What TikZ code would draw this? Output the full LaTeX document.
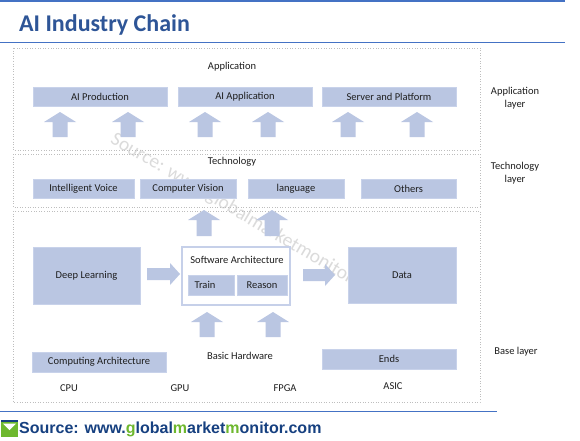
\documentclass[tikz,border=0pt]{standalone}
\usepackage{fontspec}
\setmainfont{Carlito}
\newfontfamily\arialb{Liberation Sans}
\begin{document}
\begin{tikzpicture}[x=1pt,y=-1pt,
  boxfill/.style={fill=boxc,draw=boxe,line width=0.8pt},
  bluebox/.style={boxfill,minimum height=19pt,inner sep=0pt,font=\fontsize{10.5}{12}\selectfont,text=txt},
  layerframe/.style={draw=framec,dotted,line width=0.6pt},
  lbl/.style={font=\fontsize{10.5}{12.5}\selectfont,text=txt,inner sep=0pt,align=center},
  blockarrow/.style={fill=boxc,draw=none}]
\definecolor{boxc}{RGB}{186,198,226}
\definecolor{boxe}{RGB}{200,210,234}
\definecolor{txt}{RGB}{30,30,30}
\definecolor{framec}{RGB}{190,190,190}
\definecolor{titleblue}{RGB}{46,85,151}
\definecolor{lineblue}{RGB}{68,114,196}
\definecolor{srcblue}{RGB}{22,64,128}
\definecolor{srcgreen}{RGB}{110,184,46}
\useasboundingbox (0,0) rectangle (580,441);
\fill[white] (0,0) rectangle (580,441);
% top and title lines
\fill[lineblue] (0,0) rectangle (565,2.5);
\draw[lineblue,line width=1pt] (0,43) -- (565,43);
\node[anchor=west,inner sep=0pt,text=titleblue,font=\fontsize{24}{26}\bfseries] (title) at (19,25) {AI Industry Chain};
% watermark
\node[rotate=-30.5,anchor=west,text=black!14,font=\fontsize{19.5}{20}\selectfont,inner sep=0pt] (wm) at (112,138) {Source: www.globalmarketmonitor.com};
% layer frames
\draw[layerframe] (13,48) rectangle (480,150);
\draw[layerframe] (13,154) rectangle (480,207);
\draw[layerframe] (13,211) rectangle (480,402);
% application layer
\node[lbl] (applbl) at (232,67) {Application};
\node[bluebox,minimum width=134pt] (aiprod) at (100,96.5) {AI Production};
\node[bluebox,minimum width=134pt] (aiapp) at (245,96.5) {AI Application};
\node[bluebox,minimum width=134pt] (server) at (389,96.5) {Server and Platform};
\foreach \cx in {60,128,205,268,348,417}{
  \fill[boxc] (\cx-16,122) -- (\cx,112) -- (\cx+16,122) -- (\cx+7.5,122) -- (\cx+7.5,137) -- (\cx-7.5,137) -- (\cx-7.5,122) -- cycle;
}
% technology layer
\node[lbl] (techlbl) at (232,162) {Technology};
\node[bluebox,minimum width=101pt] (voice) at (83.5,189) {Intelligent Voice};
\node[bluebox,minimum width=96pt] (vision) at (188,189) {Computer Vision};
\node[bluebox,minimum width=96pt] (lang) at (296,189) {language};
\node[bluebox,minimum width=95pt] (others) at (408.5,189) {Others};
% right labels
\node[lbl] (l1) at (515,98) {Application\\layer};
\node[lbl] (l2) at (515,173) {Technology\\layer};
\node[lbl] (l3) at (516,352) {Base layer};
% base layer
\foreach \cx in {204,272}{
  \fill[boxc] (\cx-16,220) -- (\cx,210) -- (\cx+16,220) -- (\cx+7.5,220) -- (\cx+7.5,236) -- (\cx-7.5,236) -- (\cx-7.5,220) -- cycle;
}
\foreach \cx in {207,273}{
  \fill[boxc] (\cx-16,322) -- (\cx,312) -- (\cx+16,322) -- (\cx+7.5,322) -- (\cx+7.5,337) -- (\cx-7.5,337) -- (\cx-7.5,322) -- cycle;
}
\node[bluebox,minimum width=107pt,minimum height=57pt] (deep) at (86.5,275.5) {Deep Learning};
\draw[draw=boxe!85!boxc,line width=1.5pt,fill=white] (182,247) rectangle (290,305);
\node[lbl] (soft) at (237,259.5) {Software Architecture};
\node[bluebox,minimum width=46pt,minimum height=20pt] (train) at (211,285) {\hspace*{-12pt}Train};
\node[bluebox,minimum width=50pt,minimum height=20pt] (reason) at (262,285) {Reason};
\node[bluebox,minimum width=108pt,minimum height=56pt] (data) at (402,275) {Data};
\fill[boxc] (147,268) -- (170,268) -- (170,263) -- (180,274) -- (170,285) -- (170,280) -- (147,280) -- cycle;
\fill[boxc] (303,269) -- (325,269) -- (325,264) -- (335,275) -- (325,286) -- (325,281) -- (303,281) -- cycle;
\node[lbl] (hw) at (240,356) {Basic Hardware};
\node[bluebox,minimum width=134pt,minimum height=20pt] (comp) at (99,362) {Computing Architecture};
\node[bluebox,minimum width=134pt,minimum height=20pt] (ends) at (389,359) {Ends};
\node[lbl] (cpu) at (69,388) {CPU};
\node[lbl] (gpu) at (180,388) {GPU};
\node[lbl] (fpga) at (285,388) {FPGA};
\node[lbl] (asic) at (393,386) {ASIC};
% footer
\draw[lineblue,line width=1pt] (0,411) -- (497,411);
\fill[srcgreen] (1,421) rectangle (18,437);
\fill[white] (3,423.5) -- (9.5,430) -- (16,423.5) -- cycle;
\fill[srcblue] (1,419.5) rectangle (18,422);
\node[anchor=west,inner sep=0pt,font=\arialb\fontsize{16}{17}\bfseries,text=srcblue] (src) at (19,429.5)
  {Source: www.\textcolor{srcgreen}{g}lobal\textcolor{srcgreen}{m}arket\textcolor{srcgreen}{m}onitor.com};
\end{tikzpicture}
\end{document}
